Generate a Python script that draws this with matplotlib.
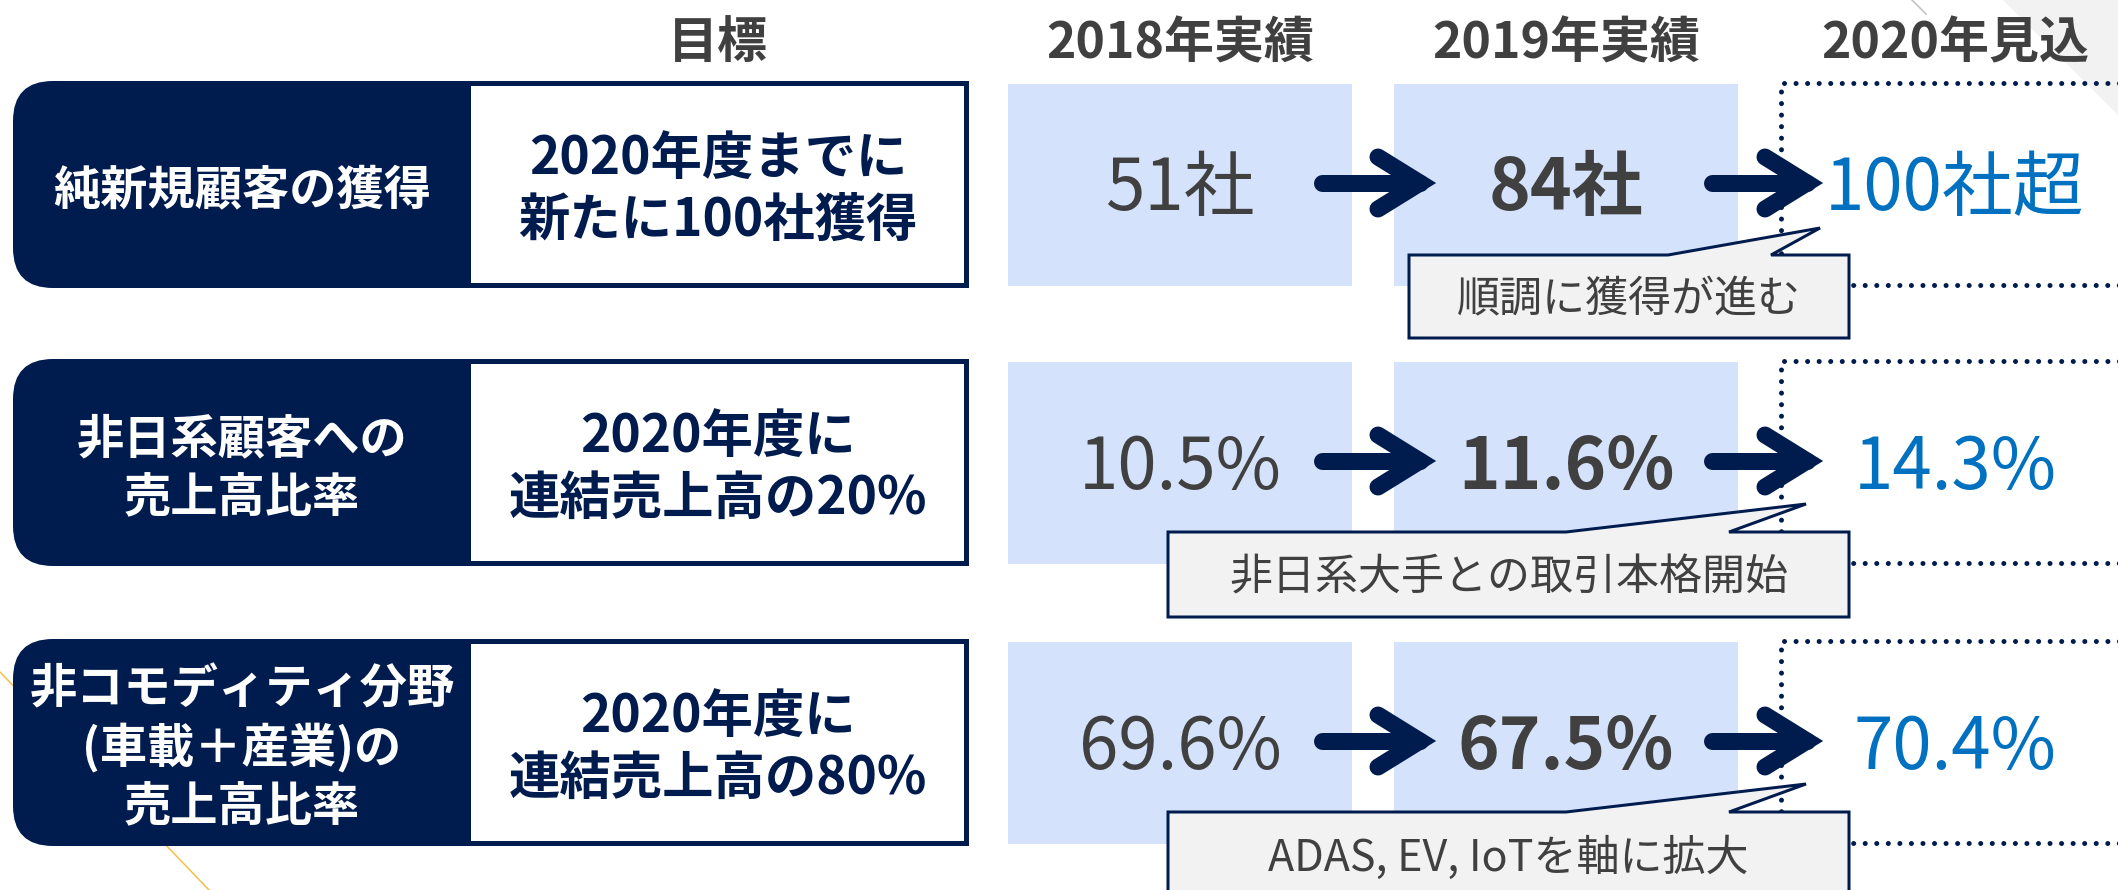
import matplotlib
matplotlib.use("Agg")
import matplotlib.pyplot as plt
from matplotlib.patches import Rectangle, FancyBboxPatch, Polygon

plt.rcParams['font.family'] = ['Noto Sans CJK JP', 'DejaVu Sans']

headers = ["目標", "2018年実績", "2019年実績", "2020年見込"]
categories = ["純新規顧客の獲得", "非日系顧客への\n売上高比率", "非コモディティ分野\n(車載＋産業)の\n売上高比率"]
goals = ["2020年度までに\n新たに100社獲得", "2020年度に\n連結売上高の20%", "2020年度に\n連結売上高の80%"]
actual_2018 = ["51社", "10.5%", "69.6%"]
actual_2019 = ["84社", "11.6%", "67.5%"]
forecast_2020 = ["100社超", "14.3%", "70.4%"]
notes = ["順調に獲得が進む", "非日系大手との取引本格開始", "ADAS, EV, IoTを軸に拡大"]

NAVY = "#001B4D"
GRAY = "#404040"
BLUE = "#0070C0"
LIGHT = "#D5E2FB"
DPI = 100


def pt(px):
    return px * 72 / DPI


def put_lines(ax, x, cy, text, size_pt, pitch, **kw):
    # place each line so the ink of CJK glyphs is centred on cy
    em = size_pt / 72 * DPI
    lines = text.split("\n")
    n = len(lines)
    for i, line in enumerate(lines):
        y = cy + (i - (n - 1) / 2) * pitch + 0.37 * em
        ax.text(x, y, line, ha="center", va="baseline", fontsize=size_pt, **kw)


fig = plt.figure(figsize=(21.18, 8.9), dpi=DPI)
ax = fig.add_axes([0, 0, 1, 1])
ax.set_xlim(0, 2118)
ax.set_ylim(890, 0)
ax.axis("off")

# decorations
ax.add_patch(Polygon([(2003, 0), (2118, 0), (2118, 115)], closed=True,
                     facecolor="#F2F2F2", edgecolor="none", zorder=0))
ax.plot([1912, 1926], [0, 14], color="#BFBFBF", lw=pt(1.5), zorder=0)
ax.plot([0, 209], [672, 890], color="#F5BE45", lw=pt(1.5), zorder=0)

row_top = [81, 359, 639]
row_h = 207
col_x = [1180, 1566, 1955]
goal_x = 718
cat_x = 242

# headers
head_x = [goal_x] + col_x
for x, h in zip(head_x, headers):
    ax.text(x, 58, h, ha="center", va="baseline", fontsize=36,
            fontweight="bold", color=GRAY, zorder=5)

arrow_x = [(1313, 1437), (1703, 1824)]
callout_geo = [
    dict(x0=1409, x1=1849, top=174, bot=257, b0=1668, b1=1771, tx=1820, ty=147),
    dict(x0=1168, x1=1849, top=173, bot=258, b0=1566, b1=1729, tx=1806, ty=145),
    dict(x0=1168, x1=1849, top=173, bot=258, b0=1566, b1=1729, tx=1806, ty=145),
]

for i, t in enumerate(row_top):
    # left label box: navy with rounded left corners, white goal panel
    ax.add_patch(FancyBboxPatch((13, t), 956, row_h,
                                boxstyle="round,pad=0,rounding_size=40",
                                facecolor=NAVY, edgecolor="none", zorder=1))
    ax.add_patch(Rectangle((500, t), 469, row_h, facecolor=NAVY,
                           edgecolor="none", zorder=1))
    ax.add_patch(Rectangle((471, t + 5), 493, row_h - 10, facecolor="white",
                           edgecolor="none", zorder=2))
    put_lines(ax, cat_x, t + 106, categories[i], 34, 59,
              color="white", fontweight="bold", zorder=3)
    put_lines(ax, goal_x, t + 105, goals[i], 37, 62,
              color=NAVY, fontweight="bold", zorder=3)

    # blue boxes for actuals
    for cx in col_x[:2]:
        ax.add_patch(Rectangle((cx - 172, t + 3), 344, 202, facecolor=LIGHT,
                               edgecolor="none", zorder=1))

    # dotted frame for forecast
    ax.plot([2130, 1781, 1781, 2130], [t + 2, t + 2, t + 204, t + 204],
            color=NAVY, lw=pt(5), linestyle=(0, (0.01, 2.3)),
            dash_capstyle="round", zorder=2)

    # values
    em = 51 / 72 * DPI
    base = t + 104 + 0.36 * em
    ax.text(col_x[0], base, actual_2018[i], ha="center", va="baseline",
            fontsize=51, color=GRAY, zorder=3)
    ax.text(col_x[1], base, actual_2019[i], ha="center", va="baseline",
            fontsize=51, fontweight="bold", color=GRAY, zorder=3)
    ax.text(col_x[2], base, forecast_2020[i], ha="center", va="baseline",
            fontsize=51, color=BLUE, zorder=3)

    # arrows
    y = t + 102
    for x0, x1 in arrow_x:
        vx = x1 - 17
        ax.plot([x0 + 8.5, vx], [y, y], color=NAVY, lw=pt(17),
                solid_capstyle="round", zorder=4)
        ax.plot([vx - 42, vx, vx - 42], [y - 26, y, y + 26], color=NAVY,
                lw=pt(17), solid_capstyle="round", solid_joinstyle="miter",
                zorder=4)

    # callout
    g = callout_geo[i]
    pts = [(g["x0"], t + g["top"]), (g["b0"], t + g["top"]),
           (g["tx"], t + g["ty"]), (g["b1"], t + g["top"]),
           (g["x1"], t + g["top"]), (g["x1"], t + g["bot"]),
           (g["x0"], t + g["bot"])]
    ax.add_patch(Polygon(pts, closed=True, facecolor="#F2F2F2",
                         edgecolor=NAVY, lw=pt(3), joinstyle="miter", zorder=5))
    put_lines(ax, (g["x0"] + g["x1"]) / 2, t + (g["top"] + g["bot"]) / 2,
              notes[i], 31, 50, color=GRAY, zorder=6)

fig.savefig("out.png", dpi=DPI)
